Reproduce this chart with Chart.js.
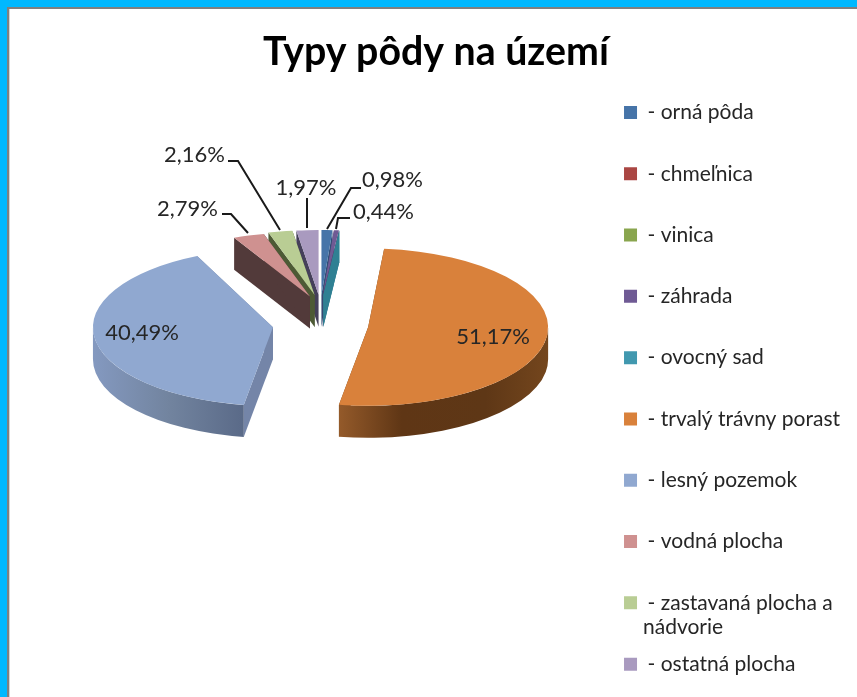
<!DOCTYPE html>
<html><head><meta charset="utf-8">
<style>html,body{margin:0;padding:0;background:#fff;overflow:hidden;width:857px;height:697px}canvas{display:block}</style>
<script src="https://cdn.jsdelivr.net/npm/chart.js@4"></script>
</head><body><canvas id="c" width="857" height="760"></canvas>
<script>
// ---- data ----
const categories = ['- orná pôda','- chmeľnica','- vinica','- záhrada','- ovocný sad','- trvalý trávny porast','- lesný pozemok','- vodná plocha','- zastavaná plocha a|nádvorie','- ostatná plocha'];
const shares = [0.98,0,0,0.44,0,51.17,40.49,2.79,2.16,1.97];
const chartTitle = 'Typy pôdy na území';
// ---- style ----
const topColors  = ['#4674a8','#aa4643','#89a54e','#6f5a94','#4198af','#d9813b','#90a8d0','#cf9190','#b9cd94','#a99abf'];
const wallColors = ['#2f4f78',null,null,'#4a3c66','#2f8093','#6b4019','#7485a8','#523a3a','#4d5a35','#45405a'];
const explode    = [31,31,31,31,31,48,48,31,31,31];
const flatten    = [.36,.36,.36,.36,.36,.437,.437,.36,.36,.36];
const pivots     = [306,306,306,306,306,324.5,324.5,307,306,306];
const centerX = 320.5, depth = 32;
const wallGradients = {5:[[0,'#945a2a'],[.3,'#5f3615'],[.7,'#5e3716'],[1,'#74461d']],6:[[0,'#8499c0'],[.5,'#72849f'],[1,'#5a6a88']]};
const fontFamily = 'Lato';
const textColor = '#262626';
// label placement: [index, text x, text y, align, leader polyline]
const callouts = [
 [0,362,180,'left',[[327,229],[351,188],[361,188]]],
 [3,353,212,'left',[[336,229],[338,218],[350,218]]],
 [9,306,188,'center',[[307,228],[307,198]]],
 [8,225,155,'right',[[280,230],[238,161],[228,161]]],
 [7,218,209,'right',[[248,233],[231,214],[222,214]]],
 [5,493,337,'center',null],
 [6,142,333,'center',null]
];
const fmt = v => v.toFixed(2).replace('.',',')+'%';

const pie3d = {
 id:'pie3d',
 beforeDraw(chart){
  const c=chart.ctx; c.save();
  c.fillStyle='#fff'; c.fillRect(0,0,857,760);
  c.fillStyle='#00b8ff'; c.fillRect(0,0,857,7); c.fillRect(0,0,7,760);
  c.fillStyle='#808080'; c.fillRect(7,7,850,2); c.fillRect(7,7,2,753);
  c.fillStyle='#d4d4d4'; c.fillRect(9,9,1,751);
  c.restore();
 },
 beforeDatasetsDraw(chart){
  const c=chart.ctx, arcs=chart.getDatasetMeta(0).data;
  const geo=i=>{
   const p=arcs[i].getProps(['x','y','startAngle','endAngle','outerRadius'],true);
   const mid=(p.startAngle+p.endAngle)/2;
   const dx=centerX-p.x+Math.cos(mid)*explode[i], dyc=Math.sin(mid)*explode[i];
   return {...p,dx,dyc,k:flatten[i],ex:p.x+dx,ey:pivots[i]+dyc*flatten[i],py:pivots[i]};
  };
  const walls=i=>{
   const g=geo(i), R=g.outerRadius, ry=R*g.k;
   if(wallColors[i]){
    for(const a of [g.startAngle,g.endAngle]){
     const ox=g.ex+Math.cos(a)*R, oy=g.ey+Math.sin(a)*ry;
     c.beginPath(); c.moveTo(g.ex,g.ey); c.lineTo(ox,oy); c.lineTo(ox,oy+depth); c.lineTo(g.ex,g.ey+depth); c.closePath();
     c.fillStyle=wallColors[i]; c.fill();
    }
   }
   const a1=Math.max(g.startAngle,0), a2=Math.min(g.endAngle,Math.PI);
   if(a2>a1 && wallGradients[i]){
    const x1=g.ex+Math.cos(a2)*R, x2=g.ex+Math.cos(a1)*R;
    const gr=c.createLinearGradient(x1,0,x2,0);
    wallGradients[i].forEach(s=>gr.addColorStop(s[0],s[1]));
    c.beginPath(); c.ellipse(g.ex,g.ey,R,ry,0,a1,a2);
    c.ellipse(g.ex,g.ey+depth,R,ry,0,a2,a1,true); c.closePath();
    c.fillStyle=gr; c.fill();
   }
  };
  const top=i=>{
   if(shares[i]===0) return;
   const g=geo(i);
   c.save();
   c.translate(g.dx,g.py+g.dyc*g.k);
   c.scale(1,g.k);
   c.translate(0,-g.y);
   arcs[i].draw(c);
   c.restore();
  };
  [0,3,4].forEach(walls); [0,3].forEach(top);
  [9,8,7,5,6].forEach(i=>{walls(i);top(i);});
  return false;
 },
 afterDraw(chart){
  const c=chart.ctx; c.save();
  c.font='22px '+fontFamily; c.fillStyle=textColor; c.textBaseline='middle';
  for(const [i,x,y,al,line] of callouts){
   if(line){ c.strokeStyle='#1a1a1a'; c.lineWidth=2; c.beginPath(); line.forEach((p,n)=>n?c.lineTo(p[0],p[1]):c.moveTo(p[0],p[1])); c.stroke(); }
   c.textAlign=al; c.fillText(fmt(shares[i]),x,y);
  }
  // second line of the wrapped legend entry
  const hb=chart.legend.legendHitBoxes[8];
  c.textAlign='left'; c.font='21px '+fontFamily;
  c.fillText(categories[8].split('|')[1],643,hb.top+hb.height/2+24);
  c.restore();
 }
};

new Chart(document.getElementById('c'),{
 type:'pie',
 data:{labels:categories,datasets:[{data:shares,backgroundColor:topColors,borderWidth:0}]},
 options:{
  responsive:false,animation:false,radius:180,
  layout:{padding:{left:22,right:7,top:0,bottom:0}},
  events:[],
  plugins:{
   tooltip:{enabled:false},
   title:{display:true,text:chartTitle,color:'#000',font:{family:fontFamily,size:39.3,weight:'bold',lineHeight:.5},padding:{top:42,bottom:0}},
   legend:{position:'right',align:'start',fullSize:false,labels:{
     boxWidth:13,boxHeight:13,padding:40.3,color:textColor,font:{family:fontFamily,size:21},
     generateLabels(ch){
       return Chart.overrides.pie.plugins.legend.labels.generateLabels(ch).map(l=>({...l,text:l.text.split('|')[0],lineWidth:0}));
     }}}
  }
 },
 plugins:[pie3d]
});
</script></body></html>
